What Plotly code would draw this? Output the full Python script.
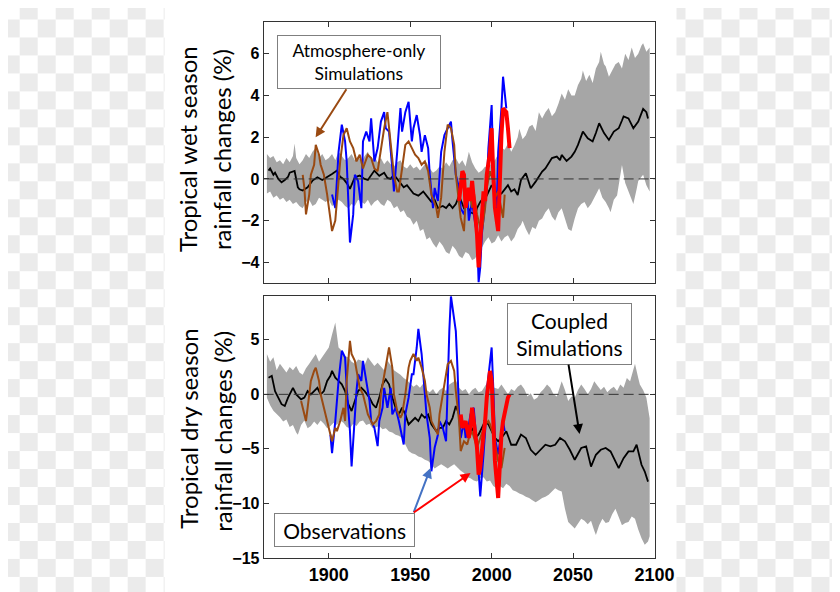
import plotly.graph_objects as go

# ---------------- data: tropical WET season (top panel) ----------------
wet_mean_years = [1863, 1864, 1866, 1867, 1869, 1871, 1873, 1875, 1876, 1879, 1881, 1882, 1884, 1887, 1890,
                  1893, 1896, 1899, 1902, 1905, 1907, 1909, 1911, 1913, 1916, 1919, 1922, 1924, 1928, 1931,
                  1934, 1936, 1938, 1940, 1942, 1944, 1946, 1948, 1950, 1952, 1955, 1958, 1960, 1963, 1965,
                  1967, 1970, 1972, 1974, 1976, 1978, 1980, 1981, 1983, 1985, 1987, 1990, 1991, 1993, 1995,
                  1997, 2000, 2003, 2006, 2008, 2010, 2012, 2014, 2016, 2018, 2021, 2022, 2024, 2027, 2029,
                  2031, 2033, 2035, 2037, 2040, 2042, 2043, 2046, 2049, 2051, 2053, 2056, 2059, 2062, 2064,
                  2066, 2069, 2072, 2075, 2078, 2080, 2081, 2084, 2087, 2090, 2092, 2093, 2095, 2096]
wet_mean_vals = [0.4, 0.5, 0.2, 0.3, 0.0, -0.16, -0.05, 0.1, 0.3, 0.38, -0.4, -0.5, -0.56, -0.4, -0.08,
                 0.08, -0.05, 0.08, 0.24, 0.4, 0.1, 0.0, -0.2, -0.48, 0.08, 0.16, 0.0, -0.05, 0.4, 0.15,
                 0.3, 0.05, 0.0, 0.2, 0.0, -0.2, -0.4, -0.3, -0.5, -0.7, -0.8, -0.6, -0.8, -1.1, -1.0,
                 -1.4, -1.3, -1.4, -1.2, -1.4, -1.2, -0.8, -1.0, -1.4, -1.3, -1.6, -1.7, -1.4, -1.1, -0.9,
                 -0.8, -0.3, -0.7, -0.7, -0.5, -0.3, -0.6, -0.5, -0.77, -0.05, 0.27, 0.0, -0.45, -0.13, 0.1,
                 0.35, 0.5, 0.75, 1.0, 1.07, 0.9, 1.15, 0.86, 1.07, 1.3, 1.63, 2.27, 1.95, 1.8, 2.2,
                 2.67, 2.2, 1.87, 2.27, 2.43, 2.8, 3.0, 2.9, 2.43, 2.75, 3.1, 3.36, 3.2, 2.9]

wet_band_up_years = [1862, 1864, 1866, 1868, 1870, 1872, 1874, 1876, 1878, 1879, 1880, 1882, 1884, 1886, 1888,
                     1890, 1892, 1894, 1896, 1898, 1900, 1902, 1904, 1906, 1908, 1910, 1912, 1914, 1916, 1918,
                     1920, 1922, 1924, 1926, 1928, 1930, 1932, 1934, 1936, 1938, 1940, 1942, 1944, 1946, 1948,
                     1950, 1952, 1954, 1956, 1958, 1960, 1962, 1964, 1966, 1968, 1970, 1972, 1974, 1976, 1978,
                     1980, 1982, 1984, 1986, 1988, 1990, 1992, 1994, 1996, 1998, 2000, 2002, 2004, 2006, 2008,
                     2010, 2012, 2014, 2016, 2017, 2019, 2021, 2023, 2025, 2027, 2029, 2031, 2033, 2035, 2037,
                     2039, 2041, 2043, 2045, 2047, 2049, 2051, 2053, 2055, 2056, 2058, 2060, 2062, 2064, 2066,
                     2067, 2069, 2070, 2072, 2074, 2076, 2078, 2080, 2082, 2084, 2086, 2088, 2090, 2092, 2093,
                     2095, 2097]
wet_band_up_vals = [1.2, 1.0, 1.1, 0.8, 0.9, 0.7, 1.0, 0.8, 1.1, 1.7, 1.0, 0.7, 0.9, 1.2, 1.0,
                    1.3, 1.5, 1.0, 1.2, 0.9, 1.0, 1.2, 0.9, 1.3, 1.1, 0.9, 1.0, 1.2, 0.9, 1.1,
                    0.8, 1.1, 1.3, 0.9, 1.1, 0.8, 1.0, 0.7, 0.9, 0.7, 0.6, 0.8, 0.9, 0.6, 0.5,
                    0.7, 0.5, 0.6, 0.4, 0.6, 0.8, 0.5, 0.3, 0.4, 0.6, 0.5, 0.8, 0.6, 0.9, 1.0,
                    0.7, 0.9, 0.6, 1.3, 0.8, 0.5, 0.3, 0.4, 0.6, 0.5, 0.8, 0.9, 1.2, 1.5, 1.4,
                    1.7, 1.3, 1.6, 2.0, 2.4, 1.9, 2.1, 2.5, 2.6, 2.3, 3.2, 2.9, 3.2, 3.4, 3.0,
                    3.2, 3.6, 4.1, 3.8, 4.3, 4.0, 4.0, 4.5, 4.8, 5.2, 4.7, 5.0, 4.6, 5.3, 5.6,
                    6.1, 5.5, 5.4, 4.9, 5.2, 5.5, 5.6, 5.3, 6.0, 5.7, 6.3, 5.8, 6.0, 6.4, 6.5,
                    6.1, 6.3]
wet_band_lo_years = [1862, 1864, 1866, 1868, 1870, 1872, 1874, 1876, 1878, 1880, 1882, 1884, 1886, 1888, 1890,
                     1892, 1894, 1896, 1898, 1900, 1902, 1904, 1906, 1908, 1910, 1912, 1914, 1916, 1918, 1920,
                     1922, 1924, 1926, 1928, 1930, 1932, 1934, 1936, 1938, 1940, 1942, 1944, 1946, 1948, 1950,
                     1952, 1954, 1956, 1958, 1960, 1962, 1964, 1966, 1968, 1970, 1972, 1974, 1976, 1978, 1980,
                     1982, 1984, 1986, 1988, 1990, 1992, 1994, 1996, 1998, 2000, 2002, 2004, 2006, 2008, 2010,
                     2012, 2014, 2016, 2018, 2019, 2021, 2023, 2025, 2027, 2029, 2031, 2033, 2035, 2037, 2039,
                     2041, 2043, 2045, 2047, 2049, 2051, 2053, 2055, 2057, 2059, 2061, 2063, 2065, 2066, 2068,
                     2070, 2072, 2073, 2075, 2077, 2079, 2080, 2082, 2084, 2086, 2087, 2089, 2090, 2092, 2093,
                     2095, 2097]
wet_band_lo_vals = [-0.7, -0.6, -0.9, -0.8, -1.0, -0.9, -1.1, -1.0, -1.2, -1.1, -1.3, -1.4, -1.1, -1.0, -1.3,
                    -1.2, -0.9, -1.0, -1.1, -1.0, -1.3, -1.2, -1.0, -1.1, -1.3, -1.4, -1.2, -1.3, -1.0, -1.1,
                    -1.2, -1.0, -1.3, -1.1, -1.0, -1.2, -1.3, -1.0, -1.1, -1.4, -1.3, -1.6, -1.5, -1.8, -1.9,
                    -2.2, -2.0, -2.5, -2.4, -2.9, -2.8, -3.1, -3.3, -3.0, -3.2, -3.5, -3.6, -3.2, -3.4, -3.7,
                    -3.8, -3.5, -3.6, -3.9, -3.8, -3.4, -3.3, -3.0, -2.8, -3.1, -3.0, -2.7, -3.0, -2.8, -2.7,
                    -3.0, -2.8, -2.4, -2.2, -2.0, -2.4, -2.7, -2.3, -2.4, -2.0, -1.9, -1.6, -1.4, -1.8, -2.0,
                    -1.6, -1.4, -1.9, -2.4, -2.5, -1.9, -1.4, -1.2, -1.1, -1.4, -1.2, -0.9, -0.6, -0.45, -0.9,
                    -1.1, -1.4, -1.6, -1.0, -0.8, 0.2, 0.67, -0.2, -0.6, -1.0, -1.2, -0.5, -0.1, 0.1, 0.2,
                    -0.3, -0.6]

wet_obs_blue_years = [1902, 1904, 1906, 1908, 1910, 1911, 1912, 1913, 1915, 1916, 1918, 1920, 1921, 1923, 1925,
                      1926, 1928, 1930, 1932, 1934, 1935, 1937, 1939, 1940, 1942, 1944, 1945, 1947, 1949, 1951,
                      1952, 1954, 1956, 1957, 1959, 1961, 1962, 1964, 1965, 1967, 1969, 1971, 1973, 1975, 1976,
                      1978, 1980, 1981, 1983, 1985, 1986, 1988, 1989, 1991, 1992, 1993, 1994, 1995, 1997, 1998,
                      2000, 2001, 2003, 2004, 2006, 2007, 2009]
wet_obs_blue_vals = [-0.75, -1.4, 1.3, 2.6, 1.8, 0.84, -1.06, -3.05, -1.7, 0.2, -0.1, -1.4, 1.8, 2.27, 1.8,
                     2.9, 0.84, 1.48, 2.75, 3.2, 2.43, 2.27, 0.5, -0.6, 1.3, 3.4, 2.27, 3.2, 3.7, 1.8,
                     2.43, 3.06, 2.1, 1.3, 2.1, 1.48, 0.2, -1.4, -0.43, -1.06, 1.3, 2.1, 2.43, 2.75, 1.8,
                     0.2, -0.43, -1.4, -1.7, -0.75, -2.0, -1.06, -1.7, -2.65, -4.95, -4.24, -2.65, -1.86, -0.43, 1.48,
                     3.54, 0.5, -1.7, 1.3, 3.38, 4.9, 3.38]

wet_obs_red_years = [1980, 1982, 1983, 1984, 1986, 1987, 1988, 1990, 1991, 1992, 1993, 1995, 1996, 1997, 1999,
                     2000, 2001, 2002, 2004, 2005, 2006, 2007, 2009, 2010, 2011]
wet_obs_red_vals = [-1.06, 0.37, 0.2, -1.38, -0.43, -1.06, -0.1, -1.7, -2.65, -4.24, -2.97, -0.6, -1.06, 0.2, 1.3,
                    2.43, 0.2, -1.38, -2.5, 0.5, 2.1, 3.38, 3.2, 2.43, 1.48]

wet_atm_years = [1884, 1885, 1886, 1888, 1889, 1891, 1892, 1894, 1895, 1897, 1899, 1901, 1902, 1904, 1905,
                 1907, 1909, 1911, 1913, 1915, 1917, 1919, 1921, 1924, 1926, 1928, 1930, 1932, 1934, 1936,
                 1938, 1940, 1942, 1943, 1945, 1947, 1949, 1951, 1953, 1955, 1957, 1959, 1961, 1963, 1966,
                 1967, 1969, 1971, 1973, 1975, 1977, 1978, 1980, 1981, 1983, 1984, 1986, 1988, 1989, 1991,
                 1993, 1994, 1996, 1997, 1999, 2001, 2002, 2004, 2005, 2007, 2008]
wet_atm_vals = [0.2, -0.43, -1.7, -0.75, 0.2, 0.68, 1.63, 1.16, 0.68, 0.2, -0.75, -1.86, -2.5, -2.0, -1.06,
                0.84, 2.1, 2.43, 1.8, 1.48, 0.84, 1.16, 0.5, 1.16, 1.0, 0.5, 0.37, 1.48, 2.43, 3.2,
                1.8, 0.2, -0.6, -0.6, 0.5, 1.63, 1.8, 1.48, 1.16, 1.0, 0.68, 0.84, 0.37, -0.75, -1.38,
                -1.86, -0.9, 1.3, 2.6, 2.43, 1.63, 0.2, -1.06, -1.86, -2.5, -1.06, -0.43, -1.38, -0.6, -1.7,
                -2.33, -2.5, -1.38, -0.43, 0.37, -0.1, -0.9, -0.6, -1.06, -1.86, -0.75]

# ---------------- data: tropical DRY season (bottom panel) ----------------
dry_mean_years = [1863, 1865, 1867, 1869, 1871, 1873, 1875, 1878, 1880, 1883, 1885, 1887, 1889, 1891, 1893,
                  1895, 1897, 1899, 1901, 1902, 1904, 1906, 1908, 1910, 1912, 1914, 1916, 1918, 1920, 1922,
                  1925, 1927, 1929, 1931, 1933, 1935, 1937, 1939, 1941, 1943, 1945, 1947, 1949, 1951, 1953,
                  1955, 1957, 1959, 1961, 1963, 1966, 1968, 1970, 1972, 1974, 1976, 1978, 1980, 1982, 1984,
                  1986, 1988, 1990, 1992, 1994, 1996, 1998, 2000, 2002, 2004, 2006, 2009, 2012, 2015, 2018,
                  2021, 2024, 2027, 2030, 2033, 2036, 2039, 2042, 2045, 2048, 2051, 2055, 2058, 2061, 2064,
                  2067, 2070, 2073, 2076, 2078, 2081, 2084, 2087, 2089, 2092, 2094, 2096]
dry_mean_vals = [1.53, 1.7, 0.3, -0.3, -0.9, -1.07, -0.3, 0.6, 0.0, -0.46, -0.3, 0.3, 0.0, 0.3, 0.6,
                 0.0, 0.3, 1.23, 1.7, 2.15, 1.53, 1.23, 0.92, 0.3, -0.9, -1.53, -0.6, 0.3, 0.6, 0.3,
                 -0.3, -0.9, -1.23, -0.3, 0.92, 1.38, 0.92, -0.3, -1.23, -1.84, -1.23, -1.84, -2.76, -2.45, -2.15,
                 -2.45, -1.84, -2.15, -1.84, -2.76, -3.37, -3.07, -3.07, -2.45, -2.76, -2.15, -1.07, -1.84, -2.76, -3.37,
                 -3.68, -3.07, -4.0, -3.68, -3.07, -2.45, -2.76, -3.37, -4.0, -4.3, -4.0, -3.38, -4.62, -4.62, -3.69,
                 -4.0, -5.08, -5.54, -5.08, -4.62, -4.77, -4.62, -4.0, -4.31, -5.08, -6.0, -4.92, -4.77, -6.62, -5.54,
                 -5.08, -4.92, -5.23, -6.15, -6.77, -5.85, -5.23, -5.23, -4.62, -6.46, -7.08, -8.0]

dry_band_up_years = [1862, 1864, 1866, 1868, 1870, 1872, 1874, 1876, 1878, 1880, 1882, 1884, 1886, 1888, 1890,
                     1892, 1894, 1896, 1898, 1900, 1902, 1904, 1906, 1908, 1910, 1912, 1914, 1916, 1918, 1920,
                     1922, 1924, 1926, 1928, 1930, 1932, 1934, 1936, 1938, 1940, 1942, 1944, 1946, 1948, 1950,
                     1952, 1954, 1956, 1958, 1960, 1962, 1964, 1966, 1968, 1970, 1972, 1974, 1976, 1978, 1980,
                     1982, 1984, 1986, 1988, 1990, 1992, 1994, 1996, 1998, 2000, 2002, 2004, 2006, 2008, 2010,
                     2012, 2014, 2016, 2018, 2020, 2022, 2024, 2026, 2028, 2030, 2032, 2034, 2036, 2038, 2040,
                     2042, 2043, 2045, 2047, 2049, 2051, 2053, 2055, 2057, 2059, 2061, 2063, 2065, 2067, 2069,
                     2071, 2073, 2075, 2077, 2079, 2081, 2083, 2085, 2087, 2088, 2090, 2091, 2093, 2095, 2097]
dry_band_up_vals = [3.7, 3.0, 3.4, 2.2, 2.8, 2.4, 2.0, 2.5, 2.2, 2.6, 2.0, 1.8, 2.4, 2.8, 3.2,
                    3.7, 3.0, 3.4, 3.8, 4.3, 5.5, 6.6, 4.3, 4.0, 3.5, 3.4, 3.0, 2.8, 3.2, 3.1,
                    2.7, 3.4, 3.0, 2.6, 2.9, 2.5, 2.2, 3.1, 2.6, 2.2, 2.0, 1.8, 1.5, 1.3, 1.0,
                    0.7, 0.9, 0.6, 1.0, 0.4, 0.2, 0.5, 0.0, 0.4, 0.6, 0.3, 0.9, 1.1, 1.3, 0.6,
                    0.3, 0.5, 0.0, 0.4, 0.6, 0.2, 0.3, 0.8, 1.2, 0.7, 0.6, 0.5, 0.9, 0.4, 0.0,
                    0.5, 0.3, 0.7, 0.9, 0.5, -0.2, 0.1, -0.5, -0.3, 0.2, 0.5, 0.9, 0.6, 0.0, -0.2,
                    0.7, 1.2, 0.4, -0.6, -0.2, -0.3, 0.4, 0.9, 0.5, 0.0, 0.5, 1.2, 0.8, 0.4, 0.7,
                    0.2, 0.5, 0.7, 0.3, 0.9, 0.6, 1.5, 1.2, 2.2, 2.8, 1.5, 0.9, 0.4, -0.3, -2.2]
dry_band_lo_years = [1862, 1864, 1866, 1868, 1870, 1872, 1874, 1876, 1878, 1880, 1881, 1883, 1885, 1887, 1889,
                     1891, 1893, 1895, 1897, 1899, 1901, 1903, 1905, 1907, 1909, 1911, 1913, 1915, 1917, 1919,
                     1921, 1923, 1925, 1927, 1929, 1931, 1933, 1935, 1937, 1939, 1941, 1943, 1945, 1947, 1949,
                     1951, 1953, 1955, 1957, 1959, 1961, 1963, 1965, 1967, 1969, 1971, 1973, 1975, 1977, 1979,
                     1981, 1983, 1985, 1987, 1989, 1991, 1993, 1995, 1997, 1999, 2001, 2003, 2005, 2007, 2009,
                     2011, 2013, 2015, 2017, 2019, 2021, 2023, 2025, 2027, 2029, 2031, 2033, 2035, 2037, 2039,
                     2041, 2043, 2045, 2047, 2049, 2051, 2053, 2055, 2057, 2059, 2061, 2063, 2064, 2066, 2068,
                     2070, 2072, 2074, 2076, 2078, 2080, 2082, 2084, 2086, 2088, 2090, 2092, 2094, 2096, 2097]
dry_band_lo_vals = [-0.3, -1.0, -1.5, -1.8, -2.1, -2.5, -2.3, -3.0, -2.8, -3.5, -3.7, -2.8, -2.4, -3.1, -2.9,
                    -2.5, -2.8, -2.4, -2.7, -3.1, -2.9, -2.6, -2.8, -2.4, -2.6, -3.0, -3.1, -2.7, -2.9, -2.5,
                    -2.4, -2.8, -2.7, -3.1, -3.0, -2.9, -3.2, -3.1, -3.4, -3.5, -3.7, -3.8, -4.0, -4.6, -5.2,
                    -5.4, -5.5, -5.7, -5.8, -6.0, -6.1, -6.4, -6.8, -6.6, -6.4, -6.6, -6.8, -6.6, -6.4, -6.7,
                    -7.0, -7.2, -7.6, -7.7, -7.9, -8.0, -7.7, -7.6, -8.0, -7.9, -8.4, -8.6, -8.4, -8.6, -8.2,
                    -8.4, -8.8, -8.9, -9.1, -9.2, -9.4, -9.5, -9.7, -9.9, -9.7, -9.5, -9.4, -9.2, -8.9, -8.6,
                    -8.8, -8.9, -10.5, -11.7, -12.0, -12.3, -11.8, -11.4, -11.6, -11.9, -11.6, -12.5, -12.9, -12.0, -11.4,
                    -11.8, -11.7, -11.0, -10.5, -11.3, -12.0, -11.8, -11.7, -11.2, -11.4, -12.4, -13.2, -13.8, -13.5, -13.0]

dry_obs_blue_years = [1901, 1902, 1904, 1906, 1908, 1910, 1911, 1913, 1914, 1915, 1917, 1918, 1920, 1921, 1923,
                      1925, 1926, 1928, 1930, 1931, 1933, 1934, 1936, 1938, 1939, 1941, 1943, 1944, 1946, 1947,
                      1949, 1951, 1952, 1954, 1955, 1957, 1959, 1960, 1962, 1963, 1965, 1967, 1968, 1970, 1972,
                      1973, 1974, 1975, 1977, 1978, 1979, 1980, 1981, 1983, 1984, 1986, 1987, 1989, 1991, 1992,
                      1993, 1995, 1996, 1997, 1999, 2000, 2001, 2002, 2004, 2005, 2007, 2008]
dry_obs_blue_vals = [-3.7, -5.4, -2.45, 1.23, 4.0, 3.37, 0.6, -3.37, -6.6, -4.0, 0.3, 1.84, 1.23, 3.07, 1.23,
                     -0.6, -2.45, -3.07, -4.75, -2.45, -1.23, 0.6, -1.23, 0.6, -1.84, -1.23, -2.45, -3.07, -4.6, -1.84,
                     -0.3, 1.84, 1.84, 4.3, 6.0, 3.7, 0.3, -1.84, -4.0, -7.05, -4.9, -3.7, -2.45, -3.07, -4.3,
                     1.23, 5.8, 9.0, 6.75, 5.8, 2.45, -1.84, -4.0, -2.45, -4.0, -2.76, -1.84, -1.23, -4.9, -6.75,
                     -9.36, -5.5, -3.37, 0.3, 3.07, 4.3, 0.6, -4.0, -5.5, -4.3, -2.45, -3.37]

dry_obs_red_years = [1981, 1982, 1984, 1986, 1987, 1988, 1990, 1991, 1992, 1993, 1995, 1996, 1997, 1999, 2000,
                     2001, 2002, 2004, 2005, 2006, 2007, 2009, 2010, 2011]
dry_obs_red_vals = [-1.84, -3.07, -2.45, -4.0, -2.76, -1.23, -3.68, -4.9, -7.36, -6.75, -3.68, -2.45, -0.3, 2.15, 1.23,
                    -2.45, -6.1, -9.5, -6.1, -3.68, -2.45, -0.9, -0.3, 0.0]

dry_atm_years = [1883, 1884, 1886, 1887, 1889, 1891, 1892, 1894, 1895, 1897, 1899, 1900, 1902, 1904, 1905,
                 1907, 1909, 1910, 1911, 1913, 1914, 1916, 1918, 1919, 1921, 1922, 1924, 1926, 1927, 1929,
                 1931, 1932, 1934, 1936, 1937, 1939, 1940, 1942, 1944, 1945, 1947, 1949, 1950, 1952, 1954,
                 1955, 1957, 1959, 1960, 1962, 1963, 1965, 1967, 1968, 1970, 1972, 1973, 1975, 1977, 1978,
                 1980, 1981, 1983, 1985, 1986, 1988, 1990, 1991, 1993, 1995, 1996, 1998, 1999, 2001, 2003,
                 2004, 2006, 2008]
dry_atm_vals = [-0.6, -1.23, -2.45, -1.23, 1.23, 2.15, 2.45, 1.23, 0.0, -1.23, -2.45, -3.07, -4.3, -3.07, -3.37,
                -2.45, -1.23, -2.45, 1.23, 4.9, 3.7, 3.07, 1.53, 0.6, 0.0, -0.6, -1.84, -2.45, -2.76, -2.45,
                -1.84, 0.0, 1.84, 3.37, 4.3, 2.45, 0.0, -1.53, -2.15, -1.84, 0.0, 2.45, 3.07, 3.7, 3.07,
                3.37, 2.45, 1.23, 0.0, -1.23, -2.45, -3.07, -3.68, -1.84, 0.0, 1.84, 2.76, 3.07, 2.15, 0.3,
                -2.45, -5.2, -4.3, -4.6, -4.0, -3.37, -4.3, -4.9, -4.0, -3.07, -2.76, -2.45, -2.76, -3.68, -5.5,
                -6.1, -6.75, -4.9]

x_ticks = [1900, 1950, 2000, 2050, 2100]
wet_y_ticks = [-4, -2, 0, 2, 4, 6]
dry_y_ticks = [-15, -10, -5, 0, 5]

# ---------------- styling / placement ----------------
W, H = 860, 600
# measured mapping of figure pixels to the photographed picture
SX, CX = 0.977, 6.3
SY, CY = 0.986, 6.5
BAND = "#A6A6A6"
BLUE = "#0000FF"
BROWN = "#9A4A12"
RED = "#FF0000"
TXT_FONT = "Lato, Carlito, Calibri, sans-serif"
TICK_FONT = "Liberation Sans, Arial, Helvetica, sans-serif"


def px(x):
    """picture pixel -> paper x"""
    return (x - CX) / SX / W


def py(y):
    """picture pixel -> paper y"""
    return 1 - (y - CY) / SY / H


fig = go.Figure()


def add_panel(xa, ya, mean_y, mean_v, up_y, up_v, lo_y, lo_v, blue_y, blue_v, atm_y, atm_v, red_y, red_v):
    fig.add_trace(go.Scatter(x=up_y + lo_y[::-1], y=up_v + lo_v[::-1], fill="toself", fillcolor=BAND,
                             line=dict(width=0), mode="lines", xaxis=xa, yaxis=ya, hoverinfo="skip",
                             showlegend=False))
    fig.add_trace(go.Scatter(x=mean_y, y=mean_v, mode="lines", line=dict(color="black", width=1.8),
                             xaxis=xa, yaxis=ya, showlegend=False))
    fig.add_trace(go.Scatter(x=blue_y, y=blue_v, mode="lines", line=dict(color=BLUE, width=2),
                             xaxis=xa, yaxis=ya, showlegend=False))
    fig.add_trace(go.Scatter(x=atm_y, y=atm_v, mode="lines", line=dict(color=BROWN, width=2),
                             xaxis=xa, yaxis=ya, showlegend=False))
    fig.add_trace(go.Scatter(x=red_y, y=red_v, mode="lines", line=dict(color=RED, width=4),
                             xaxis=xa, yaxis=ya, showlegend=False))


add_panel("x", "y", wet_mean_years, wet_mean_vals, wet_band_up_years, wet_band_up_vals,
          wet_band_lo_years, wet_band_lo_vals, wet_obs_blue_years, wet_obs_blue_vals,
          wet_atm_years, wet_atm_vals, wet_obs_red_years, wet_obs_red_vals)
add_panel("x2", "y2", dry_mean_years, dry_mean_vals, dry_band_up_years, dry_band_up_vals,
          dry_band_lo_years, dry_band_lo_vals, dry_obs_blue_years, dry_obs_blue_vals,
          dry_atm_years, dry_atm_vals, dry_obs_red_years, dry_obs_red_vals)

x_dom = [px(262), px(653)]
axis_common = dict(showline=True, linecolor="#333333", linewidth=1, mirror="ticks", ticks="inside",
                   ticklen=5, tickcolor="#333333", showgrid=False, zeroline=False)

fig.update_layout(
    width=W, height=H, margin=dict(l=0, r=0, t=0, b=0),
    paper_bgcolor="white", plot_bgcolor="white", showlegend=False,
    xaxis=dict(domain=x_dom, anchor="y", range=[1860, 2100], tickvals=x_ticks, showticklabels=False,
               **axis_common),
    yaxis=dict(domain=[py(282), py(21)], anchor="x", range=[-5, 7.5], tickvals=wet_y_ticks,
               tickfont=dict(family=TICK_FONT, size=16, color="black", weight="bold"), **axis_common),
    xaxis2=dict(domain=x_dom, anchor="y2", range=[1860, 2100], tickvals=x_ticks,
                tickfont=dict(family=TICK_FONT, size=18, color="black", weight="bold"), **axis_common),
    yaxis2=dict(domain=[py(557), py(295)], anchor="x2", range=[-15, 9], tickvals=dry_y_ticks,
                tickfont=dict(family=TICK_FONT, size=16, color="black", weight="bold"), **axis_common),
)

# zero reference lines (dashed)
for xr, yr in (("x domain", "y"), ("x2 domain", "y2")):
    fig.add_shape(type="line", xref=xr, yref=yr, x0=0, x1=1, y0=0, y1=0,
                  line=dict(color="#333333", width=1, dash="10px,5px"), layer="above")

# transparent-style checkerboard at the edges (picture pixel grid)
S = 18
PW, PH = 840, 592
for r in range(0, PH // S + 1):
    for c in range(0, PW // S + 1):
        if (r + c) % 2 == 0:
            continue
        y0, y1 = r * S, min((r + 1) * S, PH)
        for lo, hi in ((0, 163), (675, PW)):
            a, b = max(c * S, lo), min((c + 1) * S, hi)
            if a < b:
                fig.add_shape(type="rect", xref="paper", yref="paper", x0=px(a), x1=px(b),
                              y0=py(y1), y1=py(y0), fillcolor="#EBEBEB", line=dict(width=0),
                              layer="below")

# y-axis titles
for text, xc, yc in (("Tropical wet season", 186, 148), ("rainfall changes (%)", 220, 148),
                     ("Tropical dry season", 186, 428), ("rainfall changes (%)", 220, 430)):
    fig.add_annotation(text=text, x=px(xc), y=py(yc), xref="paper", yref="paper", showarrow=False,
                       textangle=-90, xanchor="center", yanchor="middle",
                       font=dict(family=TXT_FONT, size=24, color="black"))

# boxed labels
boxes = [("Atmosphere-only<br>Simulations", 277, 437, 34, 87, 17.5),
         ("Coupled<br>Simulations", 507, 629, 302, 363, 21),
         ("Observations", 274, 412, 512, 546, 21)]
for text, x0, x1, y0, y1, fs in boxes:
    fig.add_annotation(text=text, x=px((x0 + x1) / 2), y=py((y0 + y1) / 2), xref="paper", yref="paper",
                       showarrow=False, xanchor="center", yanchor="middle",
                       width=(x1 - x0) / SX - 8, height=(y1 - y0) / SY - 8, borderpad=3,
                       bordercolor="#7F7F7F", borderwidth=1, bgcolor="white",
                       font=dict(family=TXT_FONT, size=fs, color="black"))

# arrows (tip in picture px, tail offset in picture px)
arrows = [(314, 136, 31, -49, BROWN), (578, 433, -11, -70, "black"),
          (429, 467, -17, 45, "#4472C4"), (469, 472, -57, 40, RED)]
for xt, yt, ax, ay, col in arrows:
    fig.add_annotation(text="", x=px(xt), y=py(yt), xref="paper", yref="paper", showarrow=True,
                       ax=ax / SX, ay=ay / SY, arrowhead=2, arrowsize=1, arrowwidth=2, arrowcolor=col,
                       standoff=0)

fig.write_html("out.html")
